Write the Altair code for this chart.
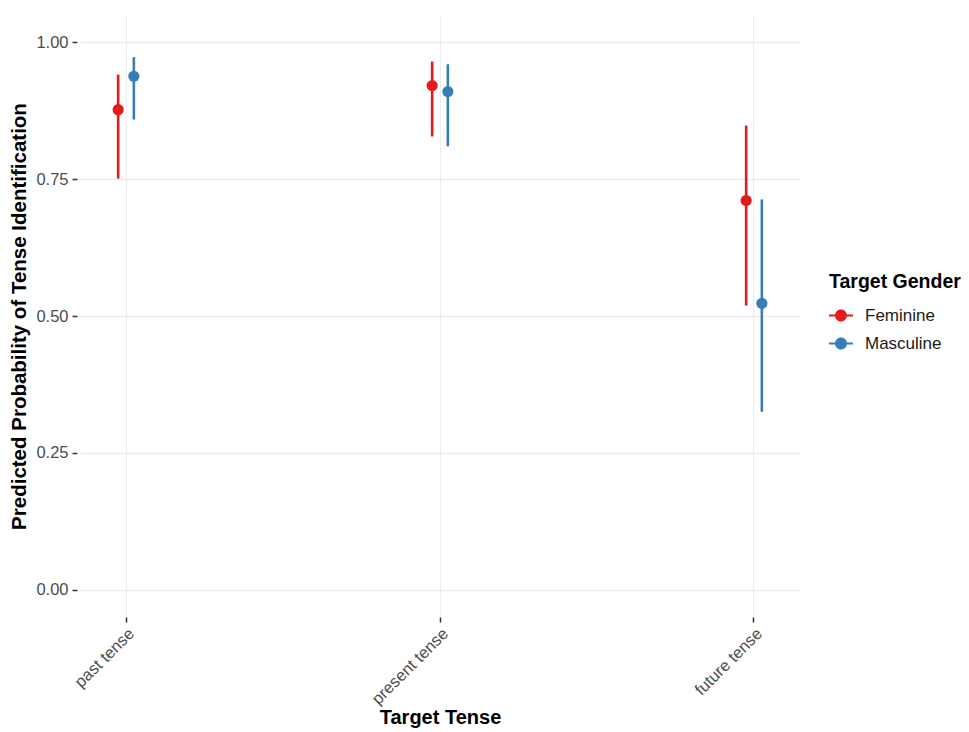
import altair as alt
import pandas as pd

tenses = ["past tense", "present tense", "future tense"]
genders = ["Feminine", "Masculine"]
prob_fem = [0.877, 0.921, 0.711]
low_fem = [0.751, 0.828, 0.519]
high_fem = [0.941, 0.965, 0.848]
prob_masc = [0.938, 0.910, 0.523]
low_masc = [0.859, 0.810, 0.325]
high_masc = [0.973, 0.960, 0.713]
colors = ["#E41A1C", "#377EB8"]
y_ticks = [0.0, 0.25, 0.5, 0.75, 1.0]

rows = []
for i, t in enumerate(tenses):
    rows.append(dict(tense=t, gender="Feminine", prob=prob_fem[i], lo=low_fem[i], hi=high_fem[i]))
    rows.append(dict(tense=t, gender="Masculine", prob=prob_masc[i], lo=low_masc[i], hi=high_masc[i]))
df = pd.DataFrame(rows)

FONT = "Liberation Sans"
TITLE_SIZE = 20.5

x_enc = alt.X(
    "tense:N", sort=tenses, title="Target Tense",
    scale=alt.Scale(paddingInner=0.9, paddingOuter=0.0965),
    axis=alt.Axis(labelAngle=-45, labelAlign="right", labelBaseline="top",
                  bandPosition=0.5, labelFontSize=16.5, labelColor="#4D4D4D",
                  labelPadding=3, tickSize=5, tickColor="#333333", tickWidth=1.5,
                  domain=False, grid=True, gridColor="#EDEDF0", gridWidth=1.2,
                  titleFontSize=20, titleFontWeight="bold", titleColor="#000000",
                  titlePadding=0),
)
xoff_enc = alt.XOffset("gender:N", sort=genders,
                       scale=alt.Scale(paddingInner=0, paddingOuter=0))
color_enc = alt.Color(
    "gender:N", sort=genders,
    scale=alt.Scale(domain=genders, range=colors),
    legend=alt.Legend(
        title="Target Gender", orient="none", legendX=749, legendY=258,
        titleFontSize=19.5, titleFontWeight="bold", titleColor="#000000",
        titlePadding=11, labelFontSize=17, labelColor="#1A1A1A",
        symbolType="M-0.5,0A0.5,0.5 0 1,1 0.5,0A0.5,0.5 0 1,1 -0.5,0Z M-1,-0.085H-0.4V0.085H-1Z M0.4,-0.085H1V0.085H0.4Z",
        symbolSize=576, symbolStrokeWidth=0, rowPadding=8, labelOffset=12,
    ),
)
y_scale = alt.Scale(domain=[-0.05, 1.05], nice=False, zero=False)
y_axis = alt.Axis(values=y_ticks, format=".2f", labelFontSize=16.5, labelColor="#4D4D4D",
                  labelPadding=4, tickSize=5, tickColor="#333333", tickWidth=1.5,
                  offset=3, domain=False, grid=True, gridColor="#EDEDF0", gridWidth=1.5,
                  titleFontSize=TITLE_SIZE, titleFontWeight="bold", titleColor="#000000",
                  titlePadding=6)

base = alt.Chart(df)
rules = base.mark_rule(strokeWidth=2.6).encode(
    x=x_enc, xOffset=xoff_enc,
    y=alt.Y("lo:Q", scale=y_scale, axis=y_axis, title="Predicted Probability of Tense Identification"),
    y2="hi:Q",
    color=color_enc,
)
points = base.mark_circle(size=125, opacity=1).encode(
    x=x_enc, xOffset=xoff_enc,
    y=alt.Y("prob:Q", scale=y_scale),
    color=color_enc,
)

chart = alt.layer(rules, points).properties(
    width=720, height=602,
    autosize=alt.AutoSizeParams(type="none"),
    padding={"left": 72, "top": 7, "right": 161, "bottom": 116},
    background="white",
).configure(font=FONT).configure_view(stroke=None)

chart.save("out.html", embed_options={"renderer": "svg", "actions": False})
